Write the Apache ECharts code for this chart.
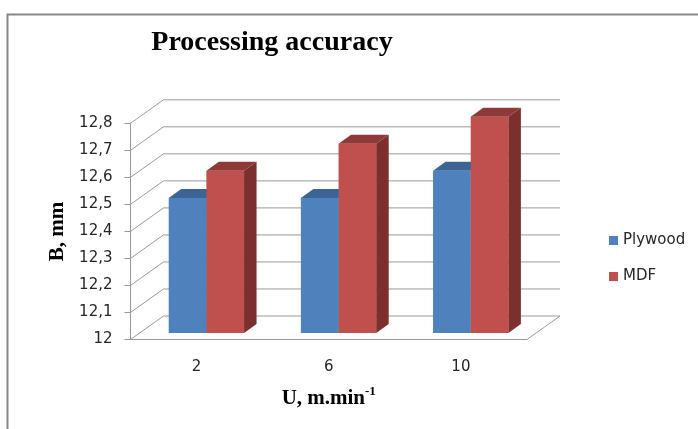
<!DOCTYPE html>
<html>
<head>
<meta charset="utf-8">
<script src="https://cdn.jsdelivr.net/npm/echarts@6/dist/echarts.min.js"></script>
<style>
  html, body { margin: 0; padding: 0; background: #fff; }
  #chart { width: 698px; height: 429px; }
</style>
</head>
<body>
<div id="chart"></div>
<script>
// Processing accuracy: B (mm) against feed speed U (m/min)
const categories = ['2', '6', '10'];
const plywood = [12.5, 12.5, 12.6];
const mdf = [12.6, 12.7, 12.8];
const yTicks = [12, 12.1, 12.2, 12.3, 12.4, 12.5, 12.6, 12.7, 12.8];
const seriesNames = ['Plywood', 'MDF'];

const Y_MIN = 12;
const Y_MAX = 12.8;

// pseudo-3D geometry (pixels)
const WALL_DEPTH = [33, -23.5];
const BAR_SHIFT = [9.8, -6.5];
const BAR_DEPTH = [12.5, -9];
const BAR_FRAC = 0.285;
const LINE_COLOR = '#9a9a9a';
const TEXT_COLOR = '#262626';

const palette = {
  Plywood: { front: '#4f81bd', top: '#3c6494', side: '#345a87' },
  MDF: { front: '#c0504d', top: '#8f3a38', side: '#7c2f2d' }
};

// back wall gridlines, left wall diagonals and the floor outline
function renderWall(params, api) {
  const cs = params.coordSys;
  const y = api.coord([0, api.value(1)])[1];
  const x0 = cs.x;
  const x1 = cs.x + cs.width;
  const dx = WALL_DEPTH[0], dy = WALL_DEPTH[1];
  const style = { fill: null, stroke: LINE_COLOR, lineWidth: 1 };
  const children = [{
    type: 'polyline',
    shape: { points: [[x0, y], [x0 + dx, y + dy], [x1 + dx, y + dy]] },
    style: style
  }];
  if (params.dataIndex === 0) {
    children.push({
      type: 'polyline',
      shape: { points: [[x0, y], [x1, y], [x1 + dx, y + dy]] },
      style: style
    });
  }
  return { type: 'group', children: children };
}

// one box-shaped column: front face, top face, right side face
function makeBarRenderer(slot, colors) {
  return function (params, api) {
    const ci = api.value(0);
    const v = api.value(1);
    const top = api.coord([ci, v]);
    const base = api.coord([ci, Y_MIN]);
    const bw = api.size([1, 0])[0] * BAR_FRAC;
    const left = top[0] + BAR_SHIFT[0] + (slot === 0 ? -bw : 0);
    const right = left + bw;
    const yt = top[1] + BAR_SHIFT[1];
    const yb = base[1] + BAR_SHIFT[1];
    const dx = BAR_DEPTH[0], dy = BAR_DEPTH[1];
    return {
      type: 'group',
      children: [
        { type: 'polygon', shape: { points: [[left, yb], [left, yt], [right, yt], [right, yb]] }, style: { fill: colors.front } },
        { type: 'polygon', shape: { points: [[left, yt], [left + dx, yt + dy], [right + dx, yt + dy], [right, yt]] }, style: { fill: colors.top } },
        { type: 'polygon', shape: { points: [[right, yt], [right + dx, yt + dy], [right + dx, yb + dy], [right, yb]] }, style: { fill: colors.side } }
      ]
    };
  };
}

const serif = '"Liberation Serif", "Times New Roman", serif';
const sans = '"DejaVu Sans", sans-serif';

const chart = echarts.init(document.getElementById('chart'), null, { renderer: 'canvas' });

chart.setOption({
  animation: false,
  backgroundColor: '#fff',
  title: {
    text: 'Processing accuracy',
    left: 267,
    top: 24,
    textAlign: 'center',
    textStyle: { fontFamily: serif, fontWeight: 'bold', fontSize: 28, color: '#000' }
  },
  legend: {
    data: seriesNames,
    orient: 'vertical',
    left: 604,
    top: 228,
    itemWidth: 9,
    itemHeight: 9,
    itemGap: 21,
    icon: 'rect',
    textStyle: { fontFamily: sans, fontSize: 15, color: TEXT_COLOR }
  },
  graphic: [
    { type: 'polyline', shape: { points: [[7.5, 429], [7.5, 14.5], [698, 14.5]] }, style: { fill: null, stroke: '#878787', lineWidth: 2 } }
  ],
  grid: { left: 130.5, right: 171, top: 123.3, bottom: 89.5 },
  xAxis: {
    type: 'category',
    data: categories,
    axisLine: { show: false },
    axisTick: { show: false },
    axisLabel: { fontFamily: sans, fontSize: 15, color: TEXT_COLOR, margin: 20 },
    name: '{m|U, m.min}{s|-1}',
    nameLocation: 'middle',
    nameGap: 46,
    nameTextStyle: {
      rich: {
        m: { fontFamily: serif, fontWeight: 'bold', fontSize: 21, color: '#000', lineHeight: 26 },
        s: { fontFamily: serif, fontWeight: 'bold', fontSize: 13, color: '#000', verticalAlign: 'top', lineHeight: 14 }
      }
    }
  },
  yAxis: {
    type: 'value',
    min: Y_MIN,
    max: Y_MAX,
    interval: 0.1,
    axisLine: { show: true, lineStyle: { color: LINE_COLOR } },
    axisTick: { show: true, length: 6, lineStyle: { color: LINE_COLOR } },
    splitLine: { show: false },
    axisLabel: {
      fontFamily: sans, fontSize: 15, color: TEXT_COLOR, margin: 18,
      formatter: function (v) { return String(+v.toFixed(1)).replace('.', ','); }
    },
    name: 'B, mm',
    nameLocation: 'middle',
    nameRotate: 90,
    nameGap: 62,
    nameTextStyle: { fontFamily: serif, fontWeight: 'bold', fontSize: 21, color: '#000' }
  },
  series: [
    {
      name: 'walls',
      type: 'custom',
      silent: true,
      renderItem: renderWall,
      data: yTicks.map(function (v) { return [0, v]; }),
      z: 1
    },
    {
      name: seriesNames[0],
      type: 'custom',
      renderItem: makeBarRenderer(0, palette.Plywood),
      itemStyle: { color: palette.Plywood.front },
      data: plywood.map(function (v, i) { return [i, v]; }),
      z: 2
    },
    {
      name: seriesNames[1],
      type: 'custom',
      renderItem: makeBarRenderer(1, palette.MDF),
      itemStyle: { color: palette.MDF.front },
      data: mdf.map(function (v, i) { return [i, v]; }),
      z: 3
    }
  ]
});
</script>
</body>
</html>
